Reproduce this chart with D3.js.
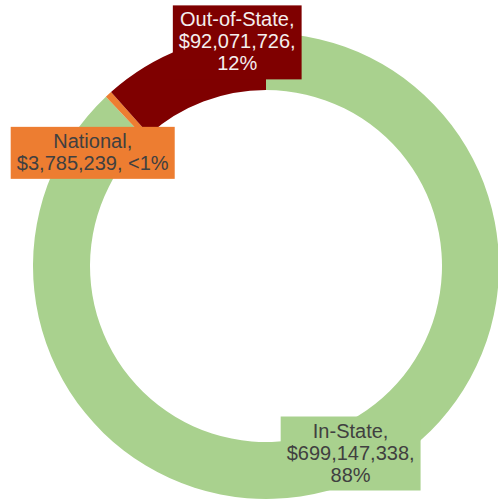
<!DOCTYPE html>
<html>
<head>
<meta charset="utf-8">
<script src="https://cdn.jsdelivr.net/npm/d3@7"></script>
<style>
  html, body { margin: 0; padding: 0; background: #ffffff; }
  svg { display: block; }
  text { font-family: "Liberation Sans", Arial, Helvetica, sans-serif; }
</style>
</head>
<body>
<div id="chart"></div>
<script>
// Funding by source
const categories = ["In-State", "National", "Out-of-State"];
const amounts = [699147338, 3785239, 92071726];
const colors = ["#a9d18e", "#ed7d31", "#7f0000"];
const labelFills = ["#a9d18e", "#ed7d31", "#7f0000"];
const labelInk = ["#404040", "#404040", "#f4eeee"];
// label box offsets from each slice's centroid, and how many text lines it wraps to
const labelShift = [[9, -2.5], [-35, 37.5], [44, -32.5]];
const labelLines = [3, 2, 3];

const W = 498, H = 503;
const cx = 266, cy = 266;
const outerR = 233, innerR = 176;
const fontSize = 20, lineGap = 22, padX = 6, padY = 4;

const svg = d3.select("#chart").append("svg")
  .attr("width", W).attr("height", H);

const data = categories.map((c, i) => ({ name: c, value: amounts[i], i }));
const total = d3.sum(amounts);

const pie = d3.pie().sort(null).value(d => d.value)
  .startAngle(0).endAngle(2 * Math.PI);
const arc = d3.arc().innerRadius(innerR).outerRadius(outerR);

const g = svg.append("g").attr("transform", `translate(${cx},${cy})`);
const arcs = pie(data);

g.selectAll("path.slice").data(arcs).join("path")
  .attr("class", "slice")
  .attr("d", arc)
  .attr("fill", d => colors[d.data.i]);

const money = d3.format("$,");
function pctText(v) {
  const p = v / total * 100;
  return p < 1 ? "<1%" : Math.round(p) + "%";
}

const labels = g.selectAll("g.label").data(arcs).join("g").attr("class", "label");

labels.each(function (d) {
  const i = d.data.i;
  const [mx, my] = arc.centroid(d);
  const x = mx + labelShift[i][0], y = my + labelShift[i][1];
  const parts = [d.data.name + ",", money(d.data.value) + ",", pctText(d.data.value)];
  const lines = labelLines[i] === 3 ? parts : [parts[0], parts[1] + " " + parts[2]];
  const sel = d3.select(this);
  const rect = sel.append("rect").attr("fill", labelFills[i]);
  const txt = sel.append("text")
    .attr("text-anchor", "middle")
    .attr("font-size", fontSize)
    .attr("fill", labelInk[i]);
  const h = lines.length * lineGap + padY * 2;
  const top = y - h / 2;
  lines.forEach((ln, k) => {
    txt.append("tspan")
      .attr("x", x)
      .attr("y", top + padY + (k + 1) * lineGap - 5)
      .text(ln);
  });
  const bb = txt.node().getBBox();
  const w = bb.width + padX * 2;
  rect.attr("x", x - w / 2).attr("y", top).attr("width", w).attr("height", h);
});
</script>
</body>
</html>
